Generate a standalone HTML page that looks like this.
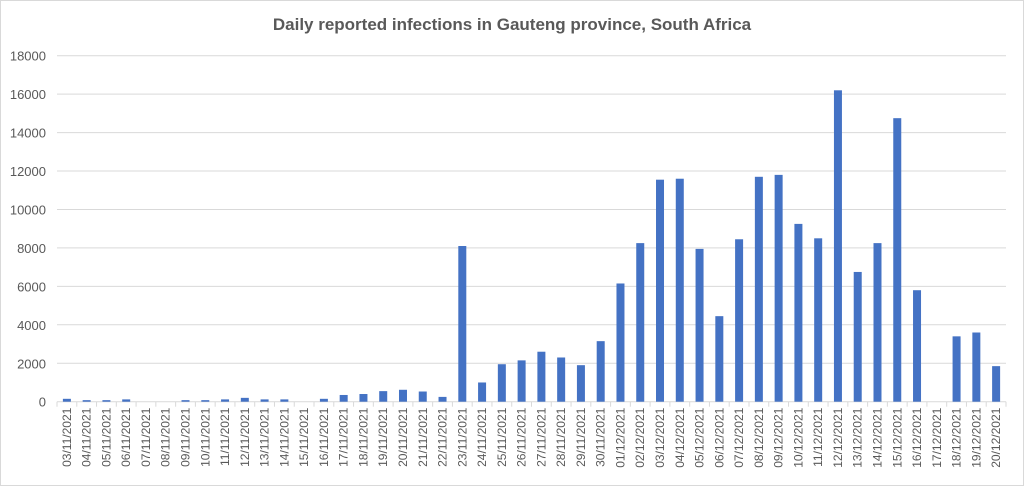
<!DOCTYPE html>
<html><head><meta charset="utf-8"><style>
body{margin:0;background:#fff;font-family:"Liberation Sans",sans-serif}
svg{display:block}
</style></head><body>
<svg id="chart" width="1024" height="486">
<rect x="0.5" y="0.5" width="1023" height="485" fill="#fff" stroke="#d9d9d9"/>
<text x="512" y="30" text-anchor="middle" font-size="17" font-weight="bold" fill="#595959">Daily reported infections in Gauteng province, South Africa</text>
<g id="grid"></g><g id="bars"></g><g id="xlabels"></g>
</svg>
<script>
const categories=["03/11/2021","04/11/2021","05/11/2021","06/11/2021","07/11/2021","08/11/2021","09/11/2021","10/11/2021","11/11/2021","12/11/2021","13/11/2021","14/11/2021","15/11/2021","16/11/2021","17/11/2021","18/11/2021","19/11/2021","20/11/2021","21/11/2021","22/11/2021","23/11/2021","24/11/2021","25/11/2021","26/11/2021","27/11/2021","28/11/2021","29/11/2021","30/11/2021","01/12/2021","02/12/2021","03/12/2021","04/12/2021","05/12/2021","06/12/2021","07/12/2021","08/12/2021","09/12/2021","10/12/2021","11/12/2021","12/12/2021","13/12/2021","14/12/2021","15/12/2021","16/12/2021","17/12/2021","18/12/2021","19/12/2021","20/12/2021"];
const infections=[150,80,80,120,0,0,80,80,120,200,120,120,0,150,350,400,550,620,530,250,8100,1000,1950,2150,2600,2300,1900,3150,6150,8250,11550,11600,7950,4450,8450,11700,11800,9250,8500,16200,6750,8250,14750,5800,0,3400,3600,1850];
const yTicks=[0,2000,4000,6000,8000,10000,12000,14000,16000,18000];
const NS="http://www.w3.org/2000/svg";
const x0=57,x1=1006,y0=401.7,yTop=55.7,yMax=18000;
const band=(x1-x0)/categories.length;
function y(v){return y0-(v/yMax)*(y0-yTop);}
function xc(i){return x0+band*(i+0.5);}
function mk(tag,attrs,parent){const e=document.createElementNS(NS,tag);for(const k in attrs)e.setAttribute(k,attrs[k]);parent.appendChild(e);return e;}
const grid=document.getElementById('grid'),bars=document.getElementById('bars'),xl=document.getElementById('xlabels');
yTicks.forEach(t=>{
  const l=mk('line',{x1:x0,x2:x1,y1:y(t),y2:y(t),stroke:'#d9d9d9','stroke-width':1},grid);
  
  
  const tx=mk('text',{x:46,y:y(t)+5,'text-anchor':'end','font-size':13,fill:'#595959'},grid);
  tx.textContent=t;
  
  
});
for(let i=0;i<=categories.length;i++){
  const tk=mk('line',{x1:x0+band*i,x2:x0+band*i,y1:y0,y2:y0+5,stroke:'#d9d9d9'},grid);
  
  
}
infections.forEach((v,i)=>{
  const w=8;
  const r=mk('rect',{x:xc(i)-w/2,y:y(v),width:w,height:y0-y(v),fill:'#4472c4'},bars);
  
  
});
categories.forEach((c,i)=>{
  const t=mk('text',{transform:`translate(${xc(i)+4},${y0+6}) rotate(-90)`,'text-anchor':'end','font-size':12,fill:'#595959'},xl);
  t.textContent=c;
  
  
});
</script>
</body></html>
